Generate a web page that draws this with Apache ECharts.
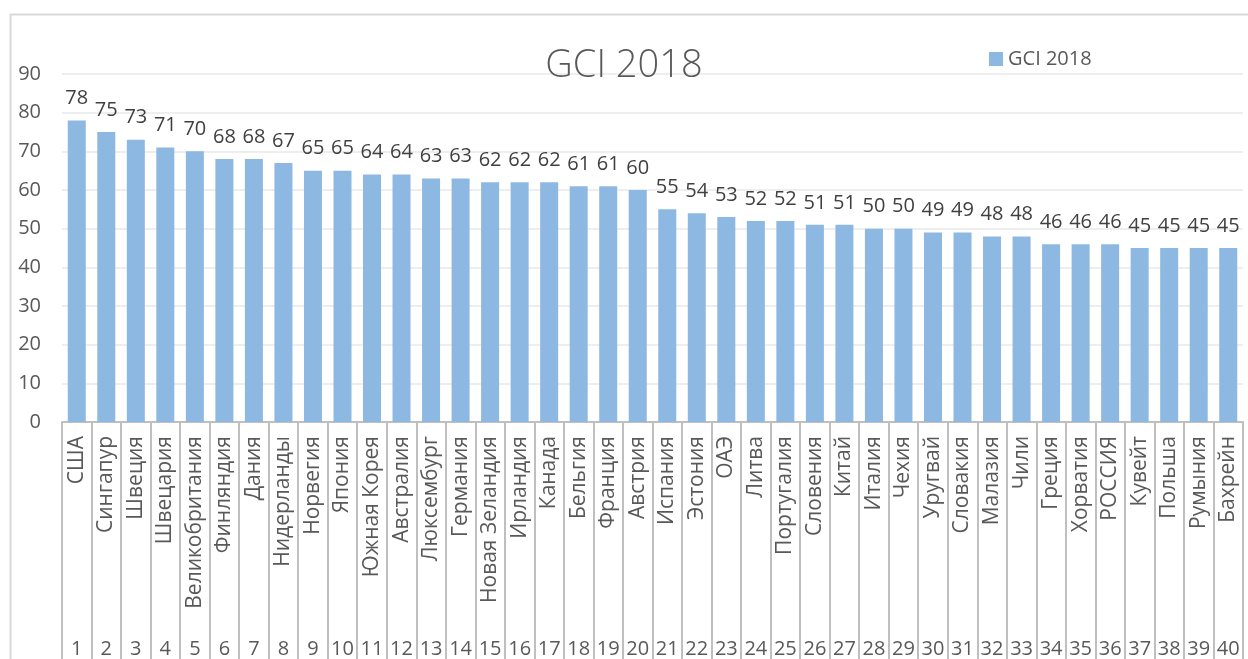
<!DOCTYPE html>
<html>
<head>
<meta charset="utf-8">
<title>GCI 2018</title>
<script src="https://cdn.jsdelivr.net/npm/echarts@6/dist/echarts.min.js"></script>
<style>
  html, body { margin: 0; padding: 0; background: #fff; }
  #main { width: 1248px; height: 659px; }
</style>
</head>
<body>
<div id="main"></div>
<script>
var countries = ['США', 'Сингапур', 'Швеция', 'Швецария', 'Великобритания', 'Финляндия', 'Дания', 'Нидерланды', 'Норвегия', 'Япония',
    'Южная Корея', 'Австралия', 'Люксембург', 'Германия', 'Новая Зеландия', 'Ирландия', 'Канада', 'Бельгия', 'Франция', 'Австрия',
    'Испания', 'Эстония', 'ОАЭ', 'Литва', 'Португалия', 'Словения', 'Китай', 'Италия', 'Чехия', 'Уругвай',
    'Словакия', 'Малазия', 'Чили', 'Греция', 'Хорватия', 'РОССИЯ', 'Кувейт', 'Польша', 'Румыния', 'Бахрейн'];
var ranks = ['1', '2', '3', '4', '5', '6', '7', '8', '9', '10', '11', '12', '13', '14', '15', '16', '17', '18', '19', '20',
    '21', '22', '23', '24', '25', '26', '27', '28', '29', '30', '31', '32', '33', '34', '35', '36', '37', '38', '39', '40'];
var gci = [78, 75, 73, 71, 70, 68, 68, 67, 65, 65, 64, 64, 63, 63, 62, 62, 62, 61, 61, 60,
    55, 54, 53, 52, 52, 51, 51, 50, 50, 49, 49, 48, 48, 46, 46, 46, 45, 45, 45, 45];

var font = '"Open Sans", "Noto Sans", sans-serif';
var myChart = echarts.init(document.getElementById('main'));
option = {
    textStyle: { fontFamily: font },
    title: {
        text: 'GCI 2018',
        left: 'center',
        top: 42,
        textStyle: { fontSize: 38, fontWeight: 300, color: '#595959', fontFamily: font }
    },
    legend: {
        data: ['GCI 2018'],
        left: 984,
        top: 44,
        itemWidth: 14,
        itemHeight: 14,
        itemGap: 6,
        icon: 'rect',
        textStyle: { fontSize: 20, color: '#595959', fontFamily: font }
    },
    graphic: [
        {
            type: 'rect',
            shape: { x: 10.5, y: 14.5, width: 1300, height: 700 },
            style: { fill: 'none', stroke: '#d9d9d9', lineWidth: 2 },
            silent: true
        }
    ],
    grid: {
        left: 62,
        right: 5,
        top: 74,
        bottom: 236
    },
    xAxis: [
        {
            type: 'category',
            data: countries,
            axisLine: { lineStyle: { color: '#bfbfbf', width: 2 } },
            axisTick: { show: true, interval: 0, length: 195, lineStyle: { color: '#bfbfbf', width: 2 } },
            axisLabel: { interval: 0, rotate: 90, margin: 14, fontSize: 21, color: '#595959', fontFamily: font }
        },
        {
            type: 'category',
            data: ranks,
            position: 'bottom',
            offset: 195,
            axisLine: { show: false },
            axisTick: { show: true, interval: 0, length: 45, lineStyle: { color: '#bfbfbf', width: 2 } },
            axisLabel: { interval: 0, margin: 22, fontSize: 20, color: '#595959', fontFamily: font }
        }
    ],
    yAxis: [
        {
            type: 'value',
            min: 0,
            max: 90,
            interval: 10,
            axisLine: { show: false },
            axisTick: { show: false },
            splitLine: { lineStyle: { color: '#e8e8e8', width: 1.5 } },
            axisLabel: { margin: 21, fontSize: 20, color: '#595959', fontFamily: font }
        }
    ],
    series: [
        {
            name: 'GCI 2018',
            type: 'bar',
            data: gci,
            barCategoryGap: '39%',
            itemStyle: { color: '#8DB8E2' },
            label: {
                show: true,
                position: 'top',
                distance: 12,
                fontSize: 20,
                color: '#404040',
                fontFamily: font
            }
        }
    ]
};
myChart.setOption(option);
</script>
</body>
</html>
